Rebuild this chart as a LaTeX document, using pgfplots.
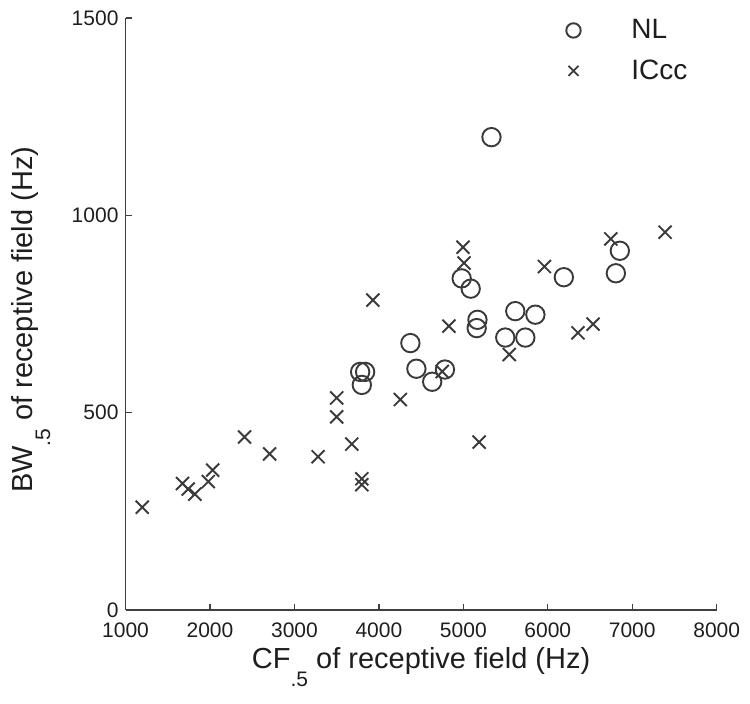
\documentclass[border=0pt]{standalone}
\usepackage{fontspec}
\setmainfont{Liberation Sans}
\usepackage{pgfplots}
\pgfplotsset{compat=1.18}
\definecolor{mk}{HTML}{3A3A3A}
\definecolor{tx}{HTML}{1E1E1E}
\newcommand{\subfive}{\raisebox{-9pt}{\fontsize{10.5}{10.5}\selectfont .5}}
\begin{document}
\begin{tikzpicture}
\begin{axis}[
  scale only axis,
  width=295.5pt, height=295.8pt,
  xmin=1000, xmax=8000, ymin=0, ymax=1500,
  axis lines=left,
  axis line style={-, line width=0.9pt, color=tx!85},
  xtick={1000,2000,3000,4000,5000,6000,7000,8000},
  ytick={0,500,1000,1500},
  tick align=inside, major tick length=3pt,
  tick style={line width=0.7pt, color=tx!85},
  scaled ticks=false,
  /pgf/number format/assume math mode=true,
  /pgf/number format/1000 sep={},
  tick label style={font=\fontsize{10.5}{12}\selectfont, text=tx},
  xticklabel style={yshift=-3pt},
  label style={font=\fontsize{14.5}{17}\selectfont, text=tx},
  xlabel={CF\subfive\ of receptive field (Hz)},
  ylabel={BW\subfive\ of receptive field (Hz)},
  xlabel style={at={(axis description cs:0.5,-0.099)}, anchor=base},
  ylabel style={at={(axis description cs:-0.158,0.49)}, anchor=base},
  legend style={draw=none, fill=none, font=\fontsize{14}{16}\selectfont, text=tx,
    at={(axis description cs:0.725,1.012)}, anchor=north west, row sep=5pt},
  legend cell align=left,
  legend image code/.code={\path (-6pt,0pt) (26.5pt,0pt); \draw[#1] plot coordinates {(0pt,0pt)};},
]
\addplot[only marks, mark=o, mark size=4.6pt, line width=0.95pt, color=mk,
  legend image post style={mark size=3.6pt}] coordinates {
(5333,1198) (4980,840) (5087,814) (5167,735) (5158,714) (5496,690)
(5615,757) (5734,690) (5853,748) (6190,843) (6853,910) (6806,853)
(4373,676) (4444,611) (4631,578) (4782,609) (3778,603) (3837,603) (3798,570)
};
\addlegendentry{NL}
\addplot[only marks, mark=x, mark size=4.6pt, line width=0.95pt, color=mk,
  legend image post style={mark size=3.5pt}] coordinates {
(1198,260) (1675,320) (1741,306) (1821,293) (1980,325) (2032,354)
(2409,438) (2706,395) (3280,388) (3500,537) (3500,489) (3679,420)
(3798,332) (3798,317) (3929,785) (4254,533) (4750,604) (4829,719)
(4996,919) (5008,879) (5187,425) (5544,647) (5960,870) (6357,702)
(6536,724) (6746,940) (7389,957)
};
\addlegendentry{ICcc}
\coordinate (bl) at (rel axis cs:0,0);
\coordinate (tr) at (rel axis cs:1,1);
\end{axis}
\pgfresetboundingbox
\path ([shift={(-62.75pt,-46.75pt)}]bl) rectangle ([shift={(16.65pt,9pt)}]tr);
\end{tikzpicture}
\end{document}
